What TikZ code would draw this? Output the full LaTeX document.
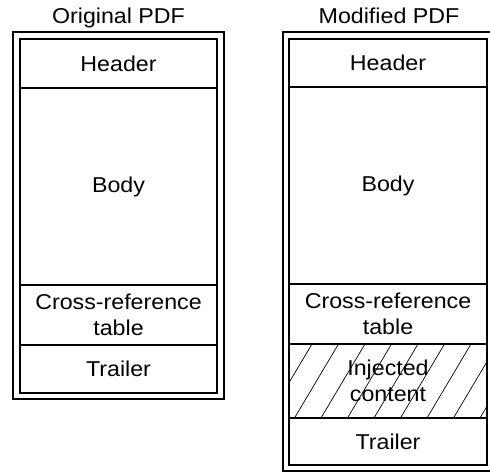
\documentclass[tikz,border=0pt]{standalone}
\usepackage{fontspec}
\setmainfont{Liberation Sans}[FakeStretch=1.08]
\begin{document}
\begin{tikzpicture}[x=1pt,y=-1pt,
  sec/.style={draw, line width=1.6pt, inner sep=0pt, align=center,
    font=\fontsize{21.5}{26}\selectfont},
  lsec/.style={sec, minimum width=197pt},
  rsec/.style={sec, minimum width=198pt},
  frame/.style={draw, line width=1.4pt},
  title/.style={font=\fontsize{21.5}{24}\selectfont, anchor=base},
  hatch/.style={line width=0.7pt}]
\useasboundingbox (0,0) rectangle (490,472);

% titles
\node[title] (t1) at (118.5,23) {Original PDF};
\node[title] (t2) at (389,23) {Modified PDF};

% outer frames
\draw[frame] (13,32) rectangle (224,399);
\draw[frame] (283,32) rectangle (493,471);

% hatch of injected content
\begin{scope}
  \clip (289,344) rectangle (487,418);
  \foreach \i in {-3,...,9}
    \draw[hatch] (268+\i*26.5,418) -- ++(44,-74);
\end{scope}

% left sections
\node[lsec, minimum height=49pt] (lh) at (118.5,63.5) {Header};
\node[lsec, minimum height=197pt] (lb) at (118.5,186.5) {Body};
\node[lsec, minimum height=60pt] (lx) at (118.5,315) {Cross-reference\\table};
\node[lsec, minimum height=48pt] (lt) at (118.5,369) {Trailer};

% right sections
\node[rsec, minimum height=48pt] (rh) at (388,63) {Header};
\node[rsec, minimum height=197pt] (rb) at (388,185.5) {Body};
\node[rsec, minimum height=60pt] (rx) at (388,314) {Cross-reference\\table};
\node[rsec, minimum height=74pt] (ri) at (388,381) {Injected\\content};
\node[rsec, minimum height=47pt] (rt) at (388,441.5) {Trailer};
\end{tikzpicture}
\end{document}
